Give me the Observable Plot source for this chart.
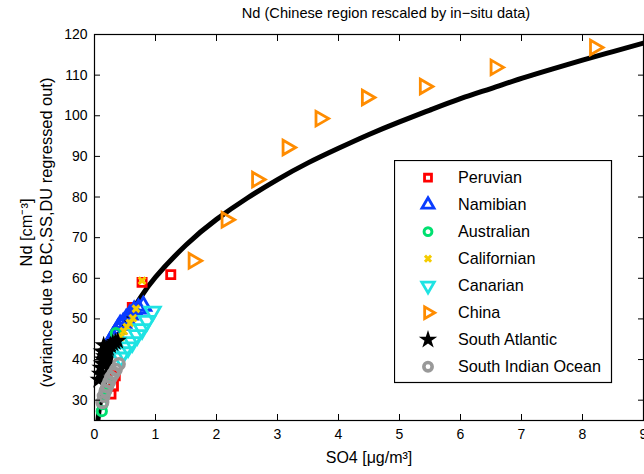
<!DOCTYPE html>
<html><head><meta charset="utf-8">
<script src="https://cdn.jsdelivr.net/npm/d3@7"></script>
<script src="https://cdn.jsdelivr.net/npm/@observablehq/plot@0.6"></script>
<style>
body{margin:0;background:#fff;font-family:"Liberation Sans",Arial,sans-serif;}
#wrap{position:relative;width:644px;height:474px;overflow:hidden;}
#title{height:26px;line-height:26px;margin-left:111px;width:550px;text-align:center;font-size:14.6px;color:#000;white-space:nowrap;}
#legend{position:absolute;left:394px;top:160px;}
</style></head><body>
<div id="wrap"><div id="title">Nd (Chinese region rescaled by in−situ data)</div><div id="chart"></div><div id="legend"></div></div>
<script>
// ---- data ----
const titleText = "Nd (Chinese region rescaled by in−situ data)";
const xLabel = "SO4 [μg/m³]";
const yLabel = "Nd [cm⁻³]\n(variance due to BC,SS,DU regressed out)";
const xTicks = [0,1,2,3,4,5,6,7,8,9];
const yTicks = [30,40,50,60,70,80,90,100,110,120];

const peruvianX = [0.27,0.31,0.34,0.62,0.78,1.25];
const peruvianY = [31.5,33.5,36.0,52.8,59.0,60.9];
const namibianX = [0.26,0.30,0.34,0.38,0.42,0.47,0.52,0.58,0.65,0.72,0.80];
const namibianY = [44.5,45.5,46.5,47.5,48.5,49.0,50.0,51.0,52.0,52.5,53.2];
const australianX = [0.12,0.13,0.15,0.18,0.21,0.35];
const australianY = [27.3,29.0,31.0,32.5,34.0,46.5];
const californianX = [0.43,0.48,0.53,0.58,0.63,0.68,0.78];
const californianY = [45.5,47.0,48.0,49.0,50.2,52.5,59.4];
const canarianX = [0.43,0.48,0.55,0.62,0.70,0.78,0.86,0.95];
const canarianY = [40.5,41.8,43.0,44.3,46.0,47.5,49.5,51.8];
const chinaX = [1.62,2.16,2.66,3.16,3.70,4.46,5.41,6.57,8.20];
const chinaY = [64.3,74.4,84.3,92.2,99.3,104.5,107.2,111.9,116.8];
const southAtlanticX = [0.07,0.09,0.10,0.12,0.14,0.16,0.18,0.20,0.23,0.26,0.30,0.34,0.38,0.12,0.15,0.20];
const southAtlanticY = [35.0,36.5,38.0,39.0,40.0,40.8,41.5,42.0,42.8,43.5,44.0,44.3,44.6,42.0,43.5,39.0];
const southIndianX = [0.13,0.15,0.18,0.21,0.24,0.27,0.31,0.35,0.40];
const southIndianY = [29.5,31.0,32.3,33.5,34.5,35.6,36.5,37.5,38.9];

const curveX = [0.056,0.1,0.2,0.3,0.5,0.75,1,1.5,2,2.5,3,3.5,4,4.5,5,5.5,6,6.5,7,7.5,8,8.5,9];
const curveY = [25.0,29.9,36.9,41.8,48.8,55.2,60.3,68.2,74.5,79.7,84.3,88.4,92.0,95.4,98.5,101.4,104.2,106.7,109.2,111.5,113.7,115.8,117.9];

const seriesNames = ["Peruvian","Namibian","Australian","Californian","Canarian","China","South Atlantic","South Indian Ocean"];
const seriesX = [peruvianX,namibianX,australianX,californianX,canarianX,chinaX,southAtlanticX,southIndianX];
const seriesY = [peruvianY,namibianY,australianY,californianY,canarianY,chinaY,southAtlanticY,southIndianY];
const seriesColors = ["#ff0000","#0a3cff","#00e070","#f5cc00","#1fe3e3","#ff8c00","#000000","#999999"];
// ---- styles ----
const seriesStyle = [
  {symbol:"square", rotate:0, r:4.6, sw:2.8, filled:false},
  {symbol:"triangle", rotate:0, r:5.6, sw:2.8, filled:false},
  {symbol:"circle", rotate:0, r:4.6, sw:3, filled:false},
  {symbol:"times", rotate:0, r:3.2, sw:3, filled:false},
  {symbol:"triangle", rotate:180, r:5.8, sw:2.8, filled:false},
  {symbol:"triangle", rotate:90, r:5.4, sw:2.8, filled:false},
  {symbol:"star", rotate:0, r:5.8, sw:0, filled:true},
  {symbol:"circle", rotate:0, r:5.2, sw:3.6, filled:false}
];

const curveData = curveX.map((x, i) => ({x, y: curveY[i]}));
const marks = [Plot.line(curveData, {x: "x", y: "y", stroke: "black", strokeWidth: 5, curve: "natural", clip: true})];
seriesNames.forEach((name, i) => {
  const data = seriesX[i].map((x, j) => ({x, y: seriesY[i][j]}));
  const st = seriesStyle[i];
  marks.push(Plot.dot(data, {
    x: "x", y: "y", symbol: st.symbol, rotate: st.rotate, r: st.r,
    stroke: st.filled ? "none" : seriesColors[i],
    fill: st.filled ? seriesColors[i] : "none",
    strokeWidth: st.sw
  }));
});

const chart = Plot.plot({
  width: 644, height: 448,
  marginLeft: 94, marginRight: 1, marginTop: 8, marginBottom: 54,
  x: {domain: [0, 9]},
  y: {domain: [25, 120]},
  style: {fontFamily: "Liberation Sans, Arial, sans-serif", fontSize: "14px", color: "black", background: "white", overflow: "visible"},
  marks: [
    ...marks,
    Plot.frame({stroke: "black", strokeWidth: 1.2}),
    Plot.axisX({ticks: xTicks, tickSize: 0, tickPadding: 9, fontSize: 14, label: null}),
    Plot.axisX({ticks: xTicks, tickSize: -6, tickFormat: () => "", label: null}),
    Plot.axisX({ticks: xTicks, anchor: "top", tickSize: -6, tickFormat: () => "", label: null}),
    Plot.axisY({ticks: yTicks, tickSize: 0, tickPadding: 7, fontSize: 14, label: null}),
    Plot.axisY({ticks: yTicks, tickSize: -6, tickFormat: () => "", label: null}),
    Plot.axisY({ticks: yTicks, anchor: "right", tickSize: -6, tickFormat: () => "", label: null}),
    Plot.text([xLabel], {text: d => d, frameAnchor: "bottom", dy: 42, fontSize: 16, textAnchor: "middle"}),
    Plot.text([yLabel], {text: d => d, frameAnchor: "left", dx: -59, dy: 5, rotate: -90, fontSize: 16.4, lineHeight: 1.22, textAnchor: "middle", lineAnchor: "middle"})
  ]
});
document.getElementById("chart").appendChild(chart);
document.getElementById("title").textContent = titleText;

// ---- legend (overlay inside the axes) ----
const symMap = {square: d3.symbolSquare, triangle: d3.symbolTriangle, circle: d3.symbolCircle, times: d3.symbolTimes, star: d3.symbolStar};
const legendScale = [0.85, 0.8, 0.85, 0.9, 0.8, 0.8, 1.0, 0.8];
const leg = d3.select("#legend").append("svg").attr("width", 219).attr("height", 224)
  .style("font-family", "Liberation Sans, Arial, sans-serif").style("font-size", "16.2px");
leg.append("rect").attr("x", 0.5).attr("y", 0.5).attr("width", 217).attr("height", 222)
  .attr("fill", "white").attr("stroke", "black").attr("stroke-width", 1.2);
seriesNames.forEach((name, i) => {
  const st = seriesStyle[i];
  const cy = 17.7 + i * 27.0;
  const rr = st.r * legendScale[i];
  leg.append("path")
    .attr("transform", `translate(34,${cy}) rotate(${st.rotate})`)
    .attr("d", d3.symbol(symMap[st.symbol], rr * rr * Math.PI)())
    .attr("fill", st.filled ? seriesColors[i] : "none")
    .attr("stroke", st.filled ? "none" : seriesColors[i])
    .attr("stroke-width", st.sw);
  leg.append("text").attr("x", 64).attr("y", cy).attr("dy", "0.35em").attr("fill", "black").text(name);
});
</script>
</body></html>
